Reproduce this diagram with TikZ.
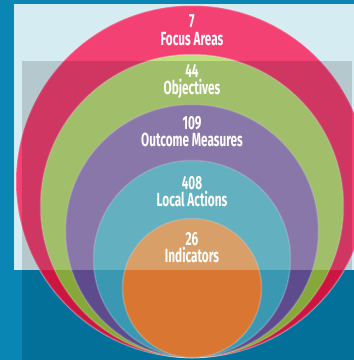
\documentclass[tikz,border=0pt]{standalone}
\usepackage{fontspec}
\usepackage{tikz}
\usetikzlibrary{positioning}
\newfontfamily\ringfont[FakeStretch=0.62]{Fira Sans}

\definecolor{seablue}{HTML}{0A86B4}
\definecolor{deepblue}{HTML}{03709A}
\definecolor{panelblue}{HTML}{D4ECF2}
\definecolor{lightfocus}{HTML}{F44174}
\definecolor{darkfocus}{HTML}{CC1541}
\definecolor{lightobjectives}{HTML}{BEE07E}
\definecolor{darkobjectives}{HTML}{86A83A}
\definecolor{lightoutcome}{HTML}{A28DC8}
\definecolor{darkoutcome}{HTML}{5E4B8E}
\definecolor{lightactions}{HTML}{74CFE2}
\definecolor{darkactions}{HTML}{3A98B2}
\definecolor{lightindicators}{HTML}{FFBC7C}
\definecolor{darkindicators}{HTML}{D97632}

\begin{document}
\begin{tikzpicture}[x=1pt,y=-1pt]
    \tikzstyle{ring}=[circle,inner sep=0pt,draw=white,draw opacity=0.25,line width=1.5pt]
    \tikzstyle{count}=[text=white,font=\ringfont\bfseries\fontsize{19}{17.5}\selectfont,align=center,inner sep=0pt]

    \useasboundingbox (0,0) rectangle (354,360);

    % Draw the background and the panels
    \fill[seablue] (0,0) rectangle (354,360);
    \fill[panelblue] (14,4) rectangle (354,270);
    \fill[deepblue] (22,270) rectangle (354,360);

    % Draw the rings, largest first, all touching at the bottom
    \foreach \name / \r in {focus/176,objectives/151.5,outcome/126.5,actions/98.5,indicators/69.5}
        \node[ring, minimum size={2*\r pt}, fill=light\name] (\name) at (192,357.5-\r) {};

    % Lower halves of the rings are darker
    \begin{scope}
        \clip (0,270) rectangle (354,360);
        \foreach \name / \r in {focus/176,objectives/151.5,outcome/126.5,actions/98.5,indicators/69.5}
            \draw[fill=dark\name, draw=white, draw opacity=0.2, line width=1.5pt] (\name.center) circle [radius=\r pt];
    \end{scope}

    % Shade over the middle band
    \fill[black, opacity=0.15] (22,61) rectangle (352,270);

    % Label the rings
    \foreach \name / \dy / \num / \what in {focus/10/7/Focus Areas,objectives/10/44/Objectives,outcome/12/109/Outcome Measures,actions/16/408/Local Actions,indicators/14/26/Indicators}
        \node[count, below=\dy pt of \name.north] (\name-label) {\num\\\what};
\end{tikzpicture}
\end{document}
